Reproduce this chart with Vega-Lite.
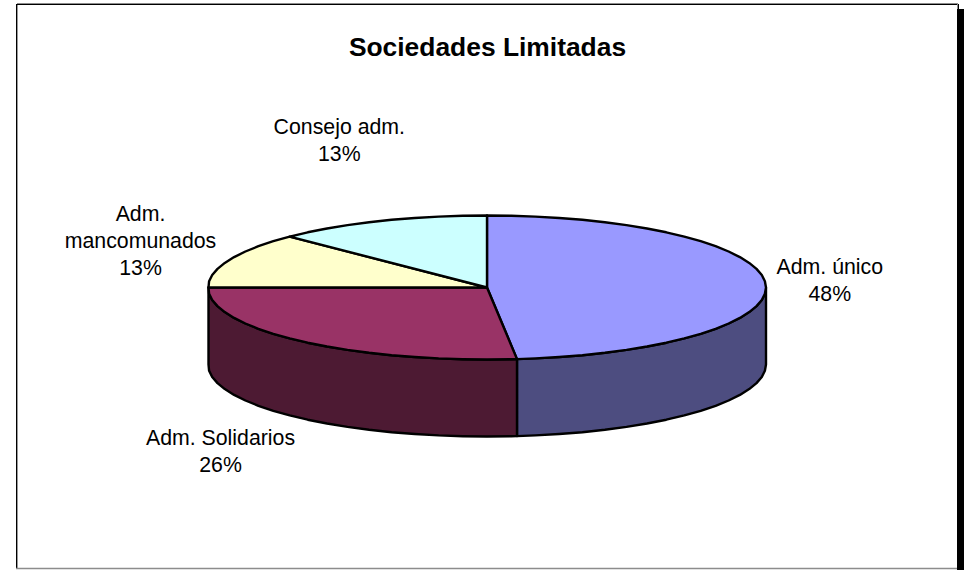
{"$schema":"https://vega.github.io/schema/vega-lite/v6.json","width":968,"height":570,"padding":0,"autosize":"none","background":"white","config":{"view":{"stroke":null}},
"resolve":{"scale":{"fill":"independent"}},
"encoding":{"x":{"field":"x","type":"quantitative","scale":{"domain":[0,968]},"axis":null},"y":{"field":"y","type":"quantitative","scale":{"domain":[-0.5,569.5],"reverse":true},"axis":null}},
"layer":[
{"data":{"values":[
{"part":"grey","x":17,"x2":958,"y":2.5,"y2":3.5},
{"part":"black","x":17,"x2":958,"y":3.5,"y2":4.5},
{"part":"black","x":16,"x2":17.4,"y":3.5,"y2":567.5},
{"part":"grey","x":957,"x2":958,"y":2.5,"y2":8.5},
{"part":"black","x":958,"x2":959,"y":3.5,"y2":8.5},
{"part":"black","x":957,"x2":964,"y":8.5,"y2":569.5},
{"part":"grey","x":16,"x2":957,"y":567.3,"y2":568.8}]},
"mark":{"type":"rect"},
"encoding":{"x2":{"field":"x2"},"y2":{"field":"y2"},"fill":{"field":"part","type":"nominal","scale":{"domain":["grey","black"],"range":["#8c8c8c","#000000"]},"legend":null}}},
{"data":{"values":[
{"part":"side único","x":766,"y":287},{"part":"side único","x":764.9,"y":293.3},{"part":"side único","x":761.8,"y":299.5},{"part":"side único","x":756.5,"y":305.6},{"part":"side único","x":749.2,"y":311.6},{"part":"side único","x":739.9,"y":317.4},{"part":"side único","x":728.6,"y":323},{"part":"side único","x":715.6,"y":328.3},{"part":"side único","x":700.7,"y":333.3},{"part":"side único","x":684.3,"y":337.9},{"part":"side único","x":666.3,"y":342.2},{"part":"side único","x":647,"y":346},{"part":"side único","x":626.5,"y":349.4},{"part":"side único","x":604.9,"y":352.3},{"part":"side único","x":582.4,"y":354.7},{"part":"side único","x":559.2,"y":356.5},{"part":"side único","x":535.4,"y":357.9},{"part":"side único","x":517,"y":358.6},
{"part":"side único","x":517,"y":435.6},{"part":"side único","x":535.4,"y":434.9},{"part":"side único","x":559.2,"y":433.5},{"part":"side único","x":582.4,"y":431.7},{"part":"side único","x":604.9,"y":429.3},{"part":"side único","x":626.5,"y":426.4},{"part":"side único","x":647,"y":423},{"part":"side único","x":666.3,"y":419.2},{"part":"side único","x":684.3,"y":414.9},{"part":"side único","x":700.7,"y":410.3},{"part":"side único","x":715.6,"y":405.3},{"part":"side único","x":728.6,"y":400},{"part":"side único","x":739.9,"y":394.4},{"part":"side único","x":749.2,"y":388.6},{"part":"side único","x":756.5,"y":382.6},{"part":"side único","x":761.8,"y":376.5},{"part":"side único","x":764.9,"y":370.3},{"part":"side único","x":766,"y":364},{"part":"side único","x":766,"y":287},
{"part":"side solidarios","x":517,"y":358.6},{"part":"side solidarios","x":511.3,"y":358.7},{"part":"side solidarios","x":487,"y":359},{"part":"side solidarios","x":462.7,"y":358.7},{"part":"side solidarios","x":438.6,"y":357.9},{"part":"side solidarios","x":414.8,"y":356.5},{"part":"side solidarios","x":391.6,"y":354.7},{"part":"side solidarios","x":369.1,"y":352.3},{"part":"side solidarios","x":347.5,"y":349.4},{"part":"side solidarios","x":327,"y":346},{"part":"side solidarios","x":307.7,"y":342.2},{"part":"side solidarios","x":289.7,"y":337.9},{"part":"side solidarios","x":273.3,"y":333.3},{"part":"side solidarios","x":258.4,"y":328.3},{"part":"side solidarios","x":245.4,"y":323},{"part":"side solidarios","x":234.1,"y":317.4},{"part":"side solidarios","x":224.8,"y":311.6},{"part":"side solidarios","x":217.5,"y":305.6},{"part":"side solidarios","x":212.2,"y":299.5},{"part":"side solidarios","x":209.1,"y":293.3},{"part":"side solidarios","x":208.5,"y":287},
{"part":"side solidarios","x":208.5,"y":364},{"part":"side solidarios","x":209.1,"y":370.3},{"part":"side solidarios","x":212.2,"y":376.5},{"part":"side solidarios","x":217.5,"y":382.6},{"part":"side solidarios","x":224.8,"y":388.6},{"part":"side solidarios","x":234.1,"y":394.4},{"part":"side solidarios","x":245.4,"y":400},{"part":"side solidarios","x":258.4,"y":405.3},{"part":"side solidarios","x":273.3,"y":410.3},{"part":"side solidarios","x":289.7,"y":414.9},{"part":"side solidarios","x":307.7,"y":419.2},{"part":"side solidarios","x":327,"y":423},{"part":"side solidarios","x":347.5,"y":426.4},{"part":"side solidarios","x":369.1,"y":429.3},{"part":"side solidarios","x":391.6,"y":431.7},{"part":"side solidarios","x":414.8,"y":433.5},{"part":"side solidarios","x":438.6,"y":434.9},{"part":"side solidarios","x":462.7,"y":435.7},{"part":"side solidarios","x":487,"y":436},{"part":"side solidarios","x":511.3,"y":435.7},{"part":"side solidarios","x":517,"y":435.6},{"part":"side solidarios","x":517,"y":358.6},
{"part":"Adm. único","x":487,"y":287},{"part":"Adm. único","x":487,"y":215},{"part":"Adm. único","x":511.3,"y":215.3},{"part":"Adm. único","x":535.4,"y":216.1},{"part":"Adm. único","x":559.2,"y":217.5},{"part":"Adm. único","x":582.4,"y":219.3},{"part":"Adm. único","x":604.9,"y":221.7},{"part":"Adm. único","x":626.5,"y":224.6},{"part":"Adm. único","x":647,"y":228},{"part":"Adm. único","x":666.3,"y":231.8},{"part":"Adm. único","x":684.3,"y":236.1},{"part":"Adm. único","x":700.7,"y":240.7},{"part":"Adm. único","x":715.6,"y":245.7},{"part":"Adm. único","x":728.6,"y":251},{"part":"Adm. único","x":739.9,"y":256.6},{"part":"Adm. único","x":749.2,"y":262.4},{"part":"Adm. único","x":756.5,"y":268.4},{"part":"Adm. único","x":761.8,"y":274.5},{"part":"Adm. único","x":764.9,"y":280.7},{"part":"Adm. único","x":766,"y":287},{"part":"Adm. único","x":764.9,"y":293.3},{"part":"Adm. único","x":761.8,"y":299.5},{"part":"Adm. único","x":756.5,"y":305.6},{"part":"Adm. único","x":749.2,"y":311.6},{"part":"Adm. único","x":739.9,"y":317.4},{"part":"Adm. único","x":728.6,"y":323},{"part":"Adm. único","x":715.6,"y":328.3},{"part":"Adm. único","x":700.7,"y":333.3},{"part":"Adm. único","x":684.3,"y":337.9},{"part":"Adm. único","x":666.3,"y":342.2},{"part":"Adm. único","x":647,"y":346},{"part":"Adm. único","x":626.5,"y":349.4},{"part":"Adm. único","x":604.9,"y":352.3},{"part":"Adm. único","x":582.4,"y":354.7},{"part":"Adm. único","x":559.2,"y":356.5},{"part":"Adm. único","x":535.4,"y":357.9},{"part":"Adm. único","x":517,"y":358.6},{"part":"Adm. único","x":487,"y":287},
{"part":"Adm. Solidarios","x":487,"y":287},{"part":"Adm. Solidarios","x":517,"y":358.6},{"part":"Adm. Solidarios","x":511.3,"y":358.7},{"part":"Adm. Solidarios","x":487,"y":359},{"part":"Adm. Solidarios","x":462.7,"y":358.7},{"part":"Adm. Solidarios","x":438.6,"y":357.9},{"part":"Adm. Solidarios","x":414.8,"y":356.5},{"part":"Adm. Solidarios","x":391.6,"y":354.7},{"part":"Adm. Solidarios","x":369.1,"y":352.3},{"part":"Adm. Solidarios","x":347.5,"y":349.4},{"part":"Adm. Solidarios","x":327,"y":346},{"part":"Adm. Solidarios","x":307.7,"y":342.2},{"part":"Adm. Solidarios","x":289.7,"y":337.9},{"part":"Adm. Solidarios","x":273.3,"y":333.3},{"part":"Adm. Solidarios","x":258.4,"y":328.3},{"part":"Adm. Solidarios","x":245.4,"y":323},{"part":"Adm. Solidarios","x":234.1,"y":317.4},{"part":"Adm. Solidarios","x":224.8,"y":311.6},{"part":"Adm. Solidarios","x":217.5,"y":305.6},{"part":"Adm. Solidarios","x":212.2,"y":299.5},{"part":"Adm. Solidarios","x":209.1,"y":293.3},{"part":"Adm. Solidarios","x":208.5,"y":287},{"part":"Adm. Solidarios","x":487,"y":287},
{"part":"Adm. mancomunados","x":487,"y":287},{"part":"Adm. mancomunados","x":208.5,"y":287},{"part":"Adm. mancomunados","x":209.1,"y":280.7},{"part":"Adm. mancomunados","x":212.2,"y":274.5},{"part":"Adm. mancomunados","x":217.5,"y":268.4},{"part":"Adm. mancomunados","x":224.8,"y":262.4},{"part":"Adm. mancomunados","x":234.1,"y":256.6},{"part":"Adm. mancomunados","x":245.4,"y":251},{"part":"Adm. mancomunados","x":258.4,"y":245.7},{"part":"Adm. mancomunados","x":273.3,"y":240.7},{"part":"Adm. mancomunados","x":289.7,"y":236.1},{"part":"Adm. mancomunados","x":487,"y":287},
{"part":"Consejo adm.","x":487,"y":287},{"part":"Consejo adm.","x":289.7,"y":236.1},{"part":"Consejo adm.","x":307.7,"y":231.8},{"part":"Consejo adm.","x":327,"y":228},{"part":"Consejo adm.","x":347.5,"y":224.6},{"part":"Consejo adm.","x":369.1,"y":221.7},{"part":"Consejo adm.","x":391.6,"y":219.3},{"part":"Consejo adm.","x":414.8,"y":217.5},{"part":"Consejo adm.","x":438.6,"y":216.1},{"part":"Consejo adm.","x":462.7,"y":215.3},{"part":"Consejo adm.","x":487,"y":215},{"part":"Consejo adm.","x":487,"y":287}
]},
"transform":[{"window":[{"op":"row_number","as":"i"}]}],
"mark":{"type":"line","stroke":"#000000","strokeWidth":2.4,"strokeJoin":"round"},
"encoding":{"detail":{"field":"part"},"order":{"field":"i","type":"quantitative"},"fill":{"field":"part","type":"nominal","scale":{"domain":["side único","side solidarios","Adm. único","Adm. Solidarios","Adm. mancomunados","Consejo adm."],"range":["#4d4d80","#4d1a33","#9999ff","#993366","#ffffcc","#ccffff"]},"legend":null}}},
{"data":{"values":[
{"label":"Adm. único\n48%","x":829.8,"y":273.5},
{"label":"Adm. Solidarios\n26%","x":220.5,"y":444},
{"label":"Adm.\nmancomunados\n13%","x":140.5,"y":220.5},
{"label":"Consejo adm.\n13%","x":339.3,"y":133}]},
"mark":{"type":"text","font":"Liberation Sans","fontSize":21.3,"align":"center","baseline":"alphabetic","lineBreak":"\n","lineHeight":27.2,"color":"#000000"},
"encoding":{"text":{"field":"label"}}},
{"data":{"values":[{"label":"Sociedades Limitadas","x":487.5,"y":55.5}]},
"mark":{"type":"text","font":"Liberation Sans","fontSize":26.4,"fontWeight":"bold","align":"center","baseline":"alphabetic","color":"#000000"},
"encoding":{"text":{"field":"label"}}}
]}
